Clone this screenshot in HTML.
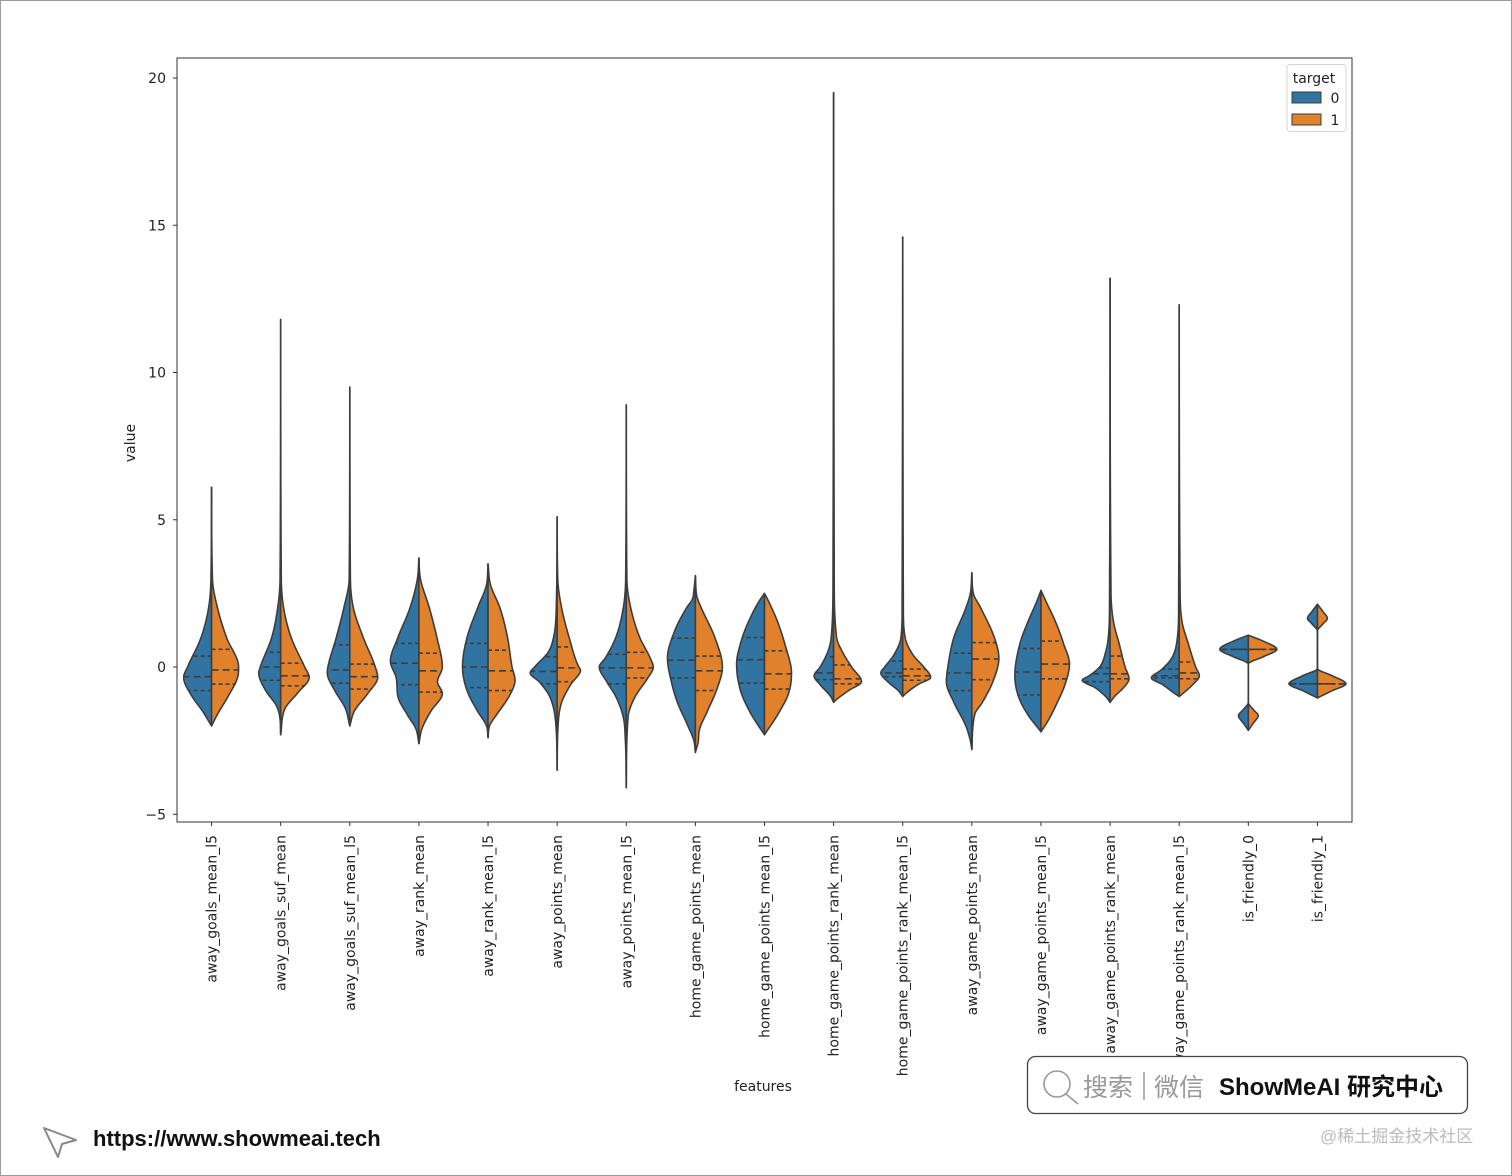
<!DOCTYPE html>
<html><head><meta charset="utf-8"><style>
html,body{margin:0;padding:0;background:#fff;}
svg{display:block;}
.mpl{font-family:"DejaVu Sans","Liberation Sans",sans-serif;}
</style></head><body>
<svg id="chart" width="1512" height="1176" viewBox="0 0 1512 1176" xmlns="http://www.w3.org/2000/svg">
<rect x="0.5" y="0.5" width="1511" height="1175" fill="#fff" stroke="#9a9a9a"/>
<g id="plot"></g>
<rect x="177" y="58" width="1175" height="764" fill="none" stroke="#333" stroke-width="1"/>
<g id="yaxis" class="mpl"></g>
<g id="xaxis" class="mpl"></g>
<text class="mpl" x="135" y="443" font-size="14" fill="#222" text-anchor="middle" transform="rotate(-90 135 443)">value</text>
<text class="mpl" x="763" y="1091" font-size="14" fill="#222" text-anchor="middle">features</text>
<g class="mpl">
<rect x="1287" y="64.5" width="59" height="67" rx="3" fill="#fff" stroke="#d5d5d5"/>
<text x="1314" y="83" font-size="14" fill="#222" text-anchor="middle">target</text>
<rect x="1292" y="92" width="29" height="11" fill="#3274a1" stroke="#3d3d3d" stroke-width="1"/>
<text x="1335" y="103" font-size="14" fill="#222" text-anchor="middle">0</text>
<rect x="1292" y="114" width="29" height="11" fill="#e1812c" stroke="#3d3d3d" stroke-width="1"/>
<text x="1335" y="125" font-size="14" fill="#222" text-anchor="middle">1</text>
</g>
<g id="banner">
<rect x="1027.5" y="1056.5" width="440" height="57" rx="8" fill="#fff" stroke="#444" stroke-width="1.3"/>
<circle cx="1057" cy="1084" r="13" fill="none" stroke="#999" stroke-width="1.6"/>
<line x1="1066" y1="1094" x2="1078" y2="1104" stroke="#999" stroke-width="1.6"/>
<text x="1083" y="1096" font-size="25" fill="#999" style="font-family:'Liberation Sans','Noto Sans CJK SC',sans-serif">搜索</text>
<line x1="1144" y1="1072" x2="1144" y2="1100" stroke="#999" stroke-width="1.5"/>
<text x="1154" y="1096" font-size="25" fill="#999" style="font-family:'Liberation Sans','Noto Sans CJK SC',sans-serif">微信</text>
<text x="1219" y="1095" font-size="24" font-weight="bold" fill="#111" style="font-family:'Liberation Sans','Noto Sans CJK SC',sans-serif">ShowMeAI 研究中心</text>
</g>
<text x="1320" y="1142" font-size="17" fill="#bbb" style="font-family:'Liberation Sans','Noto Sans CJK SC',sans-serif">@稀土掘金技术社区</text>
<g>
<path d="M44 1128 L76 1140 L62 1144 L58 1157 Z" fill="none" stroke="#888" stroke-width="2" stroke-linejoin="round"/>
</g>
<text x="93" y="1146" font-size="22" font-weight="bold" fill="#111" style="font-family:'Liberation Sans',sans-serif">https://www.showmeai.tech</text>
</svg>
<script>
const categories = ["away_goals_mean_l5","away_goals_suf_mean","away_goals_suf_mean_l5","away_rank_mean","away_rank_mean_l5","away_points_mean","away_points_mean_l5","home_game_points_mean","home_game_points_mean_l5","home_game_points_rank_mean","home_game_points_rank_mean_l5","away_game_points_mean","away_game_points_mean_l5","away_game_points_rank_mean","away_game_points_rank_mean_l5","is_friendly_0","is_friendly_1"];
const yTicks = [-5,0,5,10,15,20];
// density profiles [value, relative density] for target 0 (left) and target 1 (right)
const densityTarget0 = [
 [[6.1,0],[3,0.02],[2,0.1],[1,0.35],[0,0.8],[-0.35,0.93],[-1,0.65],[-1.5,0.3],[-2,0]],
 [[11.8,0],[3,0.02],[2,0.1],[1,0.3],[0,0.68],[-0.2,0.73],[-0.8,0.5],[-1.3,0.15],[-1.7,0.03],[-2.3,0]],
 [[9.5,0],[3,0.02],[2,0.2],[1,0.45],[0,0.73],[-0.2,0.75],[-0.8,0.5],[-1.4,0.15],[-2,0]],
 [[3.7,0],[3,0.05],[2,0.3],[1,0.7],[0.2,0.95],[-0.4,0.75],[-1,0.7],[-1.6,0.4],[-2.1,0.1],[-2.6,0]],
 [[3.5,0],[2.8,0.05],[2,0.35],[1,0.7],[0,0.85],[-0.8,0.7],[-1.5,0.35],[-2,0.05],[-2.4,0]],
 [[5.1,0],[2,0.03],[1,0.12],[0.5,0.3],[0,0.75],[-0.2,0.9],[-0.5,0.6],[-1,0.25],[-2,0.04],[-3.5,0]],
 [[8.9,0],[3,0.02],[2,0.1],[1,0.35],[0.3,0.7],[0,0.9],[-0.5,0.65],[-1,0.35],[-1.7,0.1],[-2.5,0.03],[-4.1,0]],
 [[3.1,0],[2.6,0.05],[2.3,0.1],[2,0.3],[1.2,0.7],[0.3,0.93],[-0.5,0.8],[-1.2,0.6],[-2,0.25],[-2.5,0.05],[-2.9,0]],
 [[2.5,0],[2.2,0.2],[1.5,0.55],[0.8,0.8],[0.1,0.93],[-0.8,0.8],[-1.5,0.5],[-2,0.2],[-2.3,0]],
 [[19.5,0],[3,0.02],[1,0.08],[0.5,0.2],[0,0.45],[-0.3,0.65],[-0.6,0.45],[-1,0.1],[-1.2,0]],
 [[14.6,0],[2,0.02],[1,0.06],[0.4,0.3],[0,0.6],[-0.2,0.73],[-0.5,0.5],[-0.8,0.15],[-1,0]],
 [[3.2,0],[2.5,0.05],[2,0.2],[1,0.6],[0,0.8],[-0.5,0.85],[-1.2,0.6],[-2,0.2],[-2.5,0.05],[-2.8,0]],
 [[2.6,0],[2.2,0.15],[1.5,0.45],[0.8,0.7],[-0.3,0.87],[-1,0.75],[-1.6,0.45],[-2.2,0]],
 [[13.2,0],[2,0.02],[1,0.06],[0.5,0.15],[0,0.35],[-0.3,0.7],[-0.45,0.93],[-0.7,0.5],[-1,0.15],[-1.2,0]],
 [[12.3,0],[2,0.02],[1,0.06],[0.3,0.25],[-0.1,0.6],[-0.37,0.93],[-0.6,0.55],[-0.9,0.15],[-1,0]],
 [[1.08,0],[0.9,0.45],[0.6,0.95],[0.35,0.5],[0.1,0],[-1.2,0],[-1.45,0.17],[-1.65,0.33],[-1.9,0.17],[-2.15,0]],
 [[2.13,0],[1.9,0.17],[1.65,0.33],[1.45,0.17],[1.22,0],[-0.05,0],[-0.3,0.5],[-0.57,0.95],[-0.8,0.5],[-1.05,0]]
];
const densityTarget1 = [
 [[6.1,0],[3,0.03],[2,0.2],[1,0.5],[0,0.9],[-0.3,0.88],[-1,0.55],[-1.6,0.2],[-2,0]],
 [[11.8,0],[3,0.02],[2,0.1],[1,0.35],[0,0.8],[-0.35,0.95],[-0.9,0.55],[-1.4,0.15],[-2.3,0]],
 [[9.5,0],[3,0.02],[2,0.12],[1,0.45],[0,0.85],[-0.35,0.93],[-0.9,0.6],[-1.5,0.15],[-2,0]],
 [[3.7,0],[3,0.05],[2,0.35],[1,0.6],[0,0.78],[-0.5,0.62],[-0.9,0.78],[-1.5,0.4],[-2.1,0.1],[-2.6,0]],
 [[3.5,0],[2.8,0.08],[2,0.4],[1,0.65],[0,0.8],[-0.45,0.9],[-1,0.7],[-1.6,0.3],[-2,0.05],[-2.4,0]],
 [[5.1,0],[3,0.02],[2,0.15],[1,0.4],[0,0.72],[-0.1,0.78],[-0.6,0.45],[-1.2,0.15],[-2,0.03],[-3.5,0]],
 [[8.9,0],[3,0.02],[2,0.15],[1,0.45],[0.3,0.8],[0,0.9],[-0.4,0.7],[-1,0.3],[-1.7,0.06],[-4.1,0]],
 [[3.1,0],[2.4,0.05],[2,0.2],[1,0.65],[0,0.9],[-0.8,0.7],[-1.5,0.4],[-2.2,0.12],[-2.5,0.1],[-2.9,0]],
 [[2.5,0],[2.2,0.15],[1.5,0.45],[0.7,0.7],[-0.2,0.9],[-0.9,0.8],[-1.6,0.45],[-2.3,0]],
 [[19.5,0],[3,0.02],[1,0.1],[0.5,0.3],[0,0.6],[-0.5,0.93],[-0.8,0.5],[-1.1,0.1],[-1.2,0]],
 [[14.6,0],[2,0.02],[1,0.08],[0.4,0.35],[0,0.7],[-0.35,0.93],[-0.6,0.5],[-0.9,0.1],[-1,0]],
 [[3.2,0],[2.5,0.05],[2,0.3],[1,0.75],[0.3,0.9],[-0.5,0.7],[-1.2,0.35],[-1.6,0.1],[-2.8,0]],
 [[2.6,0],[2.2,0.18],[1.5,0.5],[0.8,0.75],[0.1,0.95],[-0.6,0.8],[-1.3,0.5],[-1.8,0.25],[-2.2,0]],
 [[13.2,0],[2.5,0.03],[1.5,0.12],[0.8,0.3],[0,0.5],[-0.4,0.63],[-0.7,0.45],[-1,0.15],[-1.2,0]],
 [[12.3,0],[2.5,0.03],[1.5,0.1],[0.8,0.3],[0,0.55],[-0.3,0.67],[-0.6,0.45],[-0.9,0.12],[-1,0]],
 [[1.08,0],[0.9,0.45],[0.6,0.95],[0.35,0.5],[0.1,0],[-1.2,0],[-1.45,0.17],[-1.65,0.33],[-1.9,0.17],[-2.15,0]],
 [[2.13,0],[1.9,0.17],[1.65,0.33],[1.45,0.17],[1.22,0],[-0.05,0],[-0.3,0.5],[-0.57,0.95],[-0.8,0.5],[-1.05,0]]
];
// quartiles [q3, median, q1]
const quartilesTarget0 = [[0.37,-0.33,-0.8],[0.5,0,-0.45],[0.75,-0.1,-0.55],[0.8,0.13,-0.6],[0.8,0,-0.7],[0.35,-0.15,-0.57],[0.43,-0.03,-0.57],[0.98,0.23,-0.37],[1.0,0.25,-0.55],[0.35,-0.2,-0.43],[0.2,-0.2,-0.33],[0.47,-0.2,-0.8],[0.63,-0.17,-0.95],[-0.03,-0.23,-0.5],[-0.07,-0.3,-0.37],[0.6,0.6,0.6],[-0.57,-0.57,-0.57]];
const quartilesTarget1 = [[0.6,-0.1,-0.58],[0.13,-0.3,-0.64],[0.1,-0.33,-0.75],[0.47,-0.13,-0.85],[0.57,-0.13,-0.8],[0.68,-0.03,-0.5],[0.5,-0.03,-0.37],[0.37,-0.13,-0.8],[0.55,-0.23,-0.75],[0.07,-0.4,-0.57],[-0.07,-0.3,-0.45],[0.83,0.27,-0.43],[0.88,0.1,-0.4],[0.37,-0.23,-0.4],[0.17,-0.2,-0.4],[0.6,0.6,0.6],[-0.57,-0.57,-0.57]];

const NS = "http://www.w3.org/2000/svg";
const X0 = 177, X1 = 1352;
function yScale(v){ return 667 - v * 29.45; }
const band = (X1 - X0) / categories.length;
function xScale(i){ return X0 + band * (i + 0.5); }
const WSCALE = 30;
const colors = ["#3274a1", "#e1812c"];
const plot = document.getElementById("plot");
function mk(tag, attrs, parent){ const e = document.createElementNS(NS, tag); for (const k in attrs) e.setAttribute(k, attrs[k]); parent.appendChild(e); return e; }
// monotone cubic (Fritsch-Carlson) in value space; profile sorted descending by value
function makeInterp(prof){
  const xs = prof.map(p => -p[0]), ys = prof.map(p => p[1]);
  const n = xs.length, d = [], m = new Array(n);
  for (let k = 0; k < n - 1; k++) d.push((ys[k+1]-ys[k]) / ((xs[k+1]-xs[k]) || 1e-6));
  m[0] = d[0]; m[n-1] = d[n-2];
  for (let k = 1; k < n - 1; k++) m[k] = (d[k-1]*d[k] <= 0) ? 0 : (d[k-1] + d[k]) / 2;
  for (let k = 0; k < n - 1; k++){
    if (d[k] === 0){ m[k] = 0; m[k+1] = 0; continue; }
    const a = m[k]/d[k], b = m[k+1]/d[k], s = a*a + b*b;
    if (s > 9){ const t = 3/Math.sqrt(s); m[k] = t*a*d[k]; m[k+1] = t*b*d[k]; }
  }
  return function(v){
    const x = -v;
    if (x <= xs[0] || x >= xs[n-1]) return 0;
    let k = 0; while (k < n - 2 && x > xs[k+1]) k++;
    const h = xs[k+1]-xs[k], t = (x - xs[k]) / h;
    const h00 = 2*t*t*t - 3*t*t + 1, h10 = t*t*t - 2*t*t + t, h01 = -2*t*t*t + 3*t*t, h11 = t*t*t - t*t;
    return Math.max(0, h00*ys[k] + h10*h*m[k] + h01*ys[k+1] + h11*h*m[k+1]);
  };
}
categories.forEach((cat, i) => {
  const cx = xScale(i);
  [densityTarget0[i], densityTarget1[i]].forEach((prof, side) => {
    const sgn = side === 0 ? -1 : 1;
    const f = makeInterp(prof);
    const top = prof[0][0], bot = prof[prof.length-1][0];
    const steps = Math.max(60, Math.round((yScale(bot) - yScale(top))));
    let d = "M" + cx + "," + yScale(top).toFixed(2);
    for (let s = 1; s <= steps; s++){
      const v = top + (bot - top) * s / steps;
      d += " L" + (cx + sgn * f(v) * WSCALE).toFixed(2) + "," + yScale(v).toFixed(2);
    }
    d += " Z";
    const path = mk("path", {d: d, fill: colors[side], stroke: "#3d3d3d", "stroke-width": 1.6, "stroke-linejoin": "round"}, plot);
    
    
    const qs = side === 0 ? quartilesTarget0[i] : quartilesTarget1[i];
    qs.forEach((q, qi) => {
      const w = f(q) * WSCALE;
      const ln = mk("line", {x1: cx, x2: cx + sgn * w, y1: yScale(q), y2: yScale(q), stroke: "#3d3d3d", "stroke-width": 1.6, "stroke-dasharray": qi === 1 ? "7,4" : "4,3"}, plot);
      
      
    });
  });
  const tx = mk("text", {x: 0, y: 0, "font-size": 14, fill: "#222", "text-anchor": "end", transform: "translate(" + (cx + 5) + "," + 835 + ") rotate(-90)"}, document.getElementById("xaxis"));
  tx.textContent = cat;
  
  
  const tk = mk("line", {x1: cx, x2: cx, y1: 822, y2: 826, stroke: "#333"}, document.getElementById("xaxis"));
  
  
});
yTicks.forEach(t => {
  const y = yScale(t);
  const tk = mk("line", {x1: 173, x2: 177, y1: y, y2: y, stroke: "#333"}, document.getElementById("yaxis"));
  
  
  const tl = mk("text", {x: 166, y: y + 5, "font-size": 14, fill: "#222", "text-anchor": "end"}, document.getElementById("yaxis"));
  tl.textContent = t < 0 ? "\u2212" + Math.abs(t) : String(t);
  
  
});
const svg = document.getElementById("chart");
svg.appendChild(document.getElementById("banner"));
</script>
</body></html>
